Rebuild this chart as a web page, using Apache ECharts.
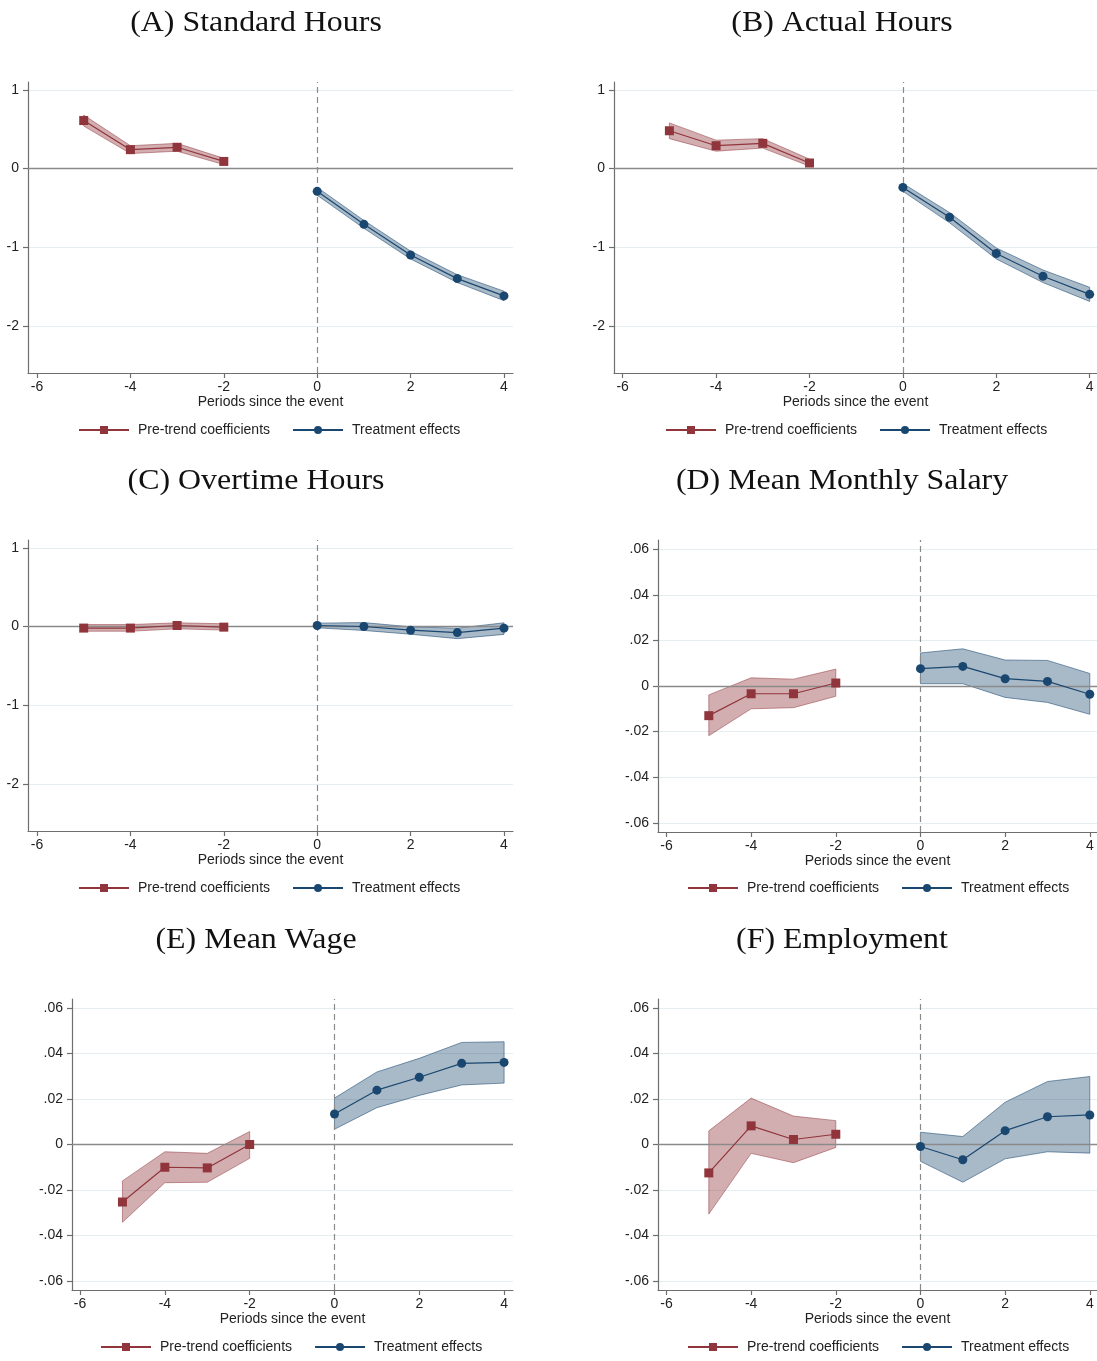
<!DOCTYPE html>
<html>
<head>
<meta charset="utf-8">
<script src="https://cdn.jsdelivr.net/npm/echarts@6/dist/echarts.min.js"></script>
<style>
  html, body { margin: 0; padding: 0; background: #ffffff; }
  #chart { width: 1097px; height: 1361px; }
</style>
</head>
<body>
<div id="chart"></div>
<script>
// ---- event-study estimates: periods, point estimates and 95% bands ----
const prePeriods = [-5, -4, -3, -2];
const postPeriods = [0, 1, 2, 3, 4];
const xTickValues = [-6, -4, -2, 0, 2, 4];
const hoursTickValues = [-2, -1, 0, 1];
const shareTickValues = [-0.06, -0.04, -0.02, 0, 0.02, 0.04, 0.06];

const panelTitles = ['(A) Standard Hours', '(B) Actual Hours', '(C) Overtime Hours',
                     '(D) Mean Monthly Salary', '(E) Mean Wage', '(F) Employment'];
const seriesNames = ['Pre-trend coefficients', 'Treatment effects'];
const xAxisTitle = 'Periods since the event';

// (A) Standard hours
const standardPre   = [0.61, 0.24, 0.27, 0.09];
const standardPreLo = [0.54, 0.19, 0.22, 0.05];
const standardPreHi = [0.68, 0.29, 0.32, 0.13];
const standardPost   = [-0.29, -0.71, -1.10, -1.40, -1.62];
const standardPostLo = [-0.34, -0.76, -1.15, -1.45, -1.68];
const standardPostHi = [-0.24, -0.66, -1.05, -1.35, -1.56];

// (B) Actual hours
const actualPre   = [0.48, 0.29, 0.32, 0.07];
const actualPreLo = [0.38, 0.22, 0.26, 0.03];
const actualPreHi = [0.58, 0.36, 0.38, 0.12];
const actualPost   = [-0.24, -0.62, -1.08, -1.37, -1.60];
const actualPostLo = [-0.29, -0.69, -1.15, -1.45, -1.69];
const actualPostHi = [-0.19, -0.56, -1.01, -1.29, -1.51];

// (C) Overtime hours
const overtimePre   = [-0.02, -0.02, 0.013, -0.008];
const overtimePreLo = [-0.06, -0.06, -0.03, -0.045];
const overtimePreHi = [0.025, 0.025, 0.047, 0.035];
const overtimePost   = [0.013, 0.0, -0.047, -0.077, -0.021];
const overtimePostLo = [-0.017, -0.05, -0.098, -0.154, -0.10];
const overtimePostHi = [0.043, 0.05, -0.004, -0.021, 0.047];

// (D) Mean monthly salary
const salaryPre   = [-0.013, -0.0034, -0.0034, 0.0013];
const salaryPreLo = [-0.0218, -0.0100, -0.0095, -0.0045];
const salaryPreHi = [-0.0039, 0.0036, 0.0030, 0.0074];
const salaryPost   = [0.0076, 0.0086, 0.0032, 0.0020, -0.0036];
const salaryPostLo = [0.0010, 0.0010, -0.0050, -0.0072, -0.0124];
const salaryPostHi = [0.0145, 0.0163, 0.0114, 0.0112, 0.0055];

// (E) Mean wage
const wagePre   = [-0.0253, -0.0100, -0.0103, 0.0000];
const wagePreLo = [-0.0342, -0.0168, -0.0166, -0.0061];
const wagePreHi = [-0.0160, -0.0032, -0.0039, 0.0057];
const wagePost   = [0.0134, 0.0239, 0.0296, 0.0357, 0.0361];
const wagePostLo = [0.0067, 0.0162, 0.0216, 0.0262, 0.0270];
const wagePostHi = [0.0204, 0.0319, 0.0379, 0.0449, 0.0452];

// (F) Employment
const employPre   = [-0.0125, 0.0082, 0.0022, 0.0045];
const employPreLo = [-0.0306, -0.0039, -0.0080, -0.0013];
const employPreHi = [0.0060, 0.0204, 0.0125, 0.0105];
const employPost   = [-0.0009, -0.0067, 0.0061, 0.0122, 0.0130];
const employPostLo = [-0.0074, -0.0166, -0.0063, -0.0032, -0.0038];
const employPostHi = [0.0054, 0.0035, 0.0186, 0.0277, 0.0299];

const panelData = [
  [standardPre, standardPreLo, standardPreHi, standardPost, standardPostLo, standardPostHi],
  [actualPre, actualPreLo, actualPreHi, actualPost, actualPostLo, actualPostHi],
  [overtimePre, overtimePreLo, overtimePreHi, overtimePost, overtimePostLo, overtimePostHi],
  [salaryPre, salaryPreLo, salaryPreHi, salaryPost, salaryPostLo, salaryPostHi],
  [wagePre, wagePreLo, wagePreHi, wagePost, wagePostLo, wagePostHi],
  [employPre, employPreLo, employPreHi, employPost, employPostLo, employPostHi]
];

// ---- layout of the six panels (pixels) ----
const layouts = [
  { left: 28,  top: 82,  width: 485, height: 291, xMin: -6.193, xMax: 4.193, yMin: -2.6,  yMax: 1.1,   hours: true,  legendLeft: 78,  legendTop: 423,  titleX: 256, titleY: 23 },
  { left: 614, top: 82,  width: 483, height: 291, xMin: -6.186, xMax: 4.157, yMin: -2.6,  yMax: 1.1,   hours: true,  legendLeft: 665, legendTop: 423,  titleX: 842, titleY: 23 },
  { left: 28,  top: 540, width: 485, height: 291, xMin: -6.193, xMax: 4.193, yMin: -2.6,  yMax: 1.1,   hours: true,  legendLeft: 78,  legendTop: 881,  titleX: 256, titleY: 481 },
  { left: 658, top: 540, width: 439, height: 292, xMin: -6.2,   xMax: 4.17,  yMin: -0.064, yMax: 0.064, hours: false, legendLeft: 687, legendTop: 881,  titleX: 842, titleY: 481 },
  { left: 72,  top: 999, width: 441, height: 291, xMin: -6.19,  xMax: 4.21,  yMin: -0.064, yMax: 0.064, hours: false, legendLeft: 100, legendTop: 1340, titleX: 256, titleY: 940 },
  { left: 658, top: 999, width: 439, height: 291, xMin: -6.2,   xMax: 4.17,  yMin: -0.064, yMax: 0.064, hours: false, legendLeft: 687, legendTop: 1340, titleX: 842, titleY: 940 }
];

const RED = '#90353B';
const NAVY = '#1A476F';
const RED_FILL = 'rgba(144,53,59,0.40)';
const NAVY_FILL = 'rgba(26,71,111,0.38)';
const RED_EDGE = 'rgba(144,53,59,0.50)';
const NAVY_EDGE = 'rgba(26,71,111,0.55)';
const AXIS_COLOR = '#6e6e6e';
const TEXT_COLOR = '#222222';
const SANS = '"Liberation Sans", Arial, sans-serif';
const FONT_SIZE = 14;

function shareLabel(v) {
  if (Math.abs(v) < 1e-9) return '0';
  const s = Math.abs(v).toFixed(2).replace(/^0/, '');
  return (v < 0 ? '-' : '') + s;
}

// Confidence band drawn as one polygon through the axis scales
function bandSeries(idx, xs, lo, hi, fill, edge) {
  return {
    type: 'custom',
    xAxisIndex: idx,
    yAxisIndex: idx,
    silent: true,
    z: 2,
    data: xs.map((x, i) => [x, lo[i], hi[i]]),
    encode: { x: 0, y: [1, 2] },
    renderItem: function (params, api) {
      if (params.dataIndex !== 0) return null;
      const upper = xs.map((x, i) => api.coord([x, hi[i]]));
      const lower = xs.map((x, i) => api.coord([x, lo[i]])).reverse();
      return {
        type: 'polygon',
        shape: { points: upper.concat(lower) },
        style: { fill: fill, stroke: edge, lineWidth: 1 }
      };
    }
  };
}

const option = {
  animation: false,
  backgroundColor: '#ffffff',
  grid: [], xAxis: [], yAxis: [], series: [], legend: [], graphic: []
};

layouts.forEach((L, i) => {
  const d = panelData[i];
  const yTicks = L.hours ? hoursTickValues : shareTickValues;

  option.grid.push({ left: L.left, top: L.top, width: L.width, height: L.height, containLabel: false });

  option.xAxis.push({
    type: 'value', gridIndex: i, min: L.xMin, max: L.xMax,
    axisLine: { show: true, onZero: false, lineStyle: { color: AXIS_COLOR, width: 1.2 } },
    axisTick: { show: true, length: 5, customValues: xTickValues, lineStyle: { color: AXIS_COLOR, width: 1.2 } },
    axisLabel: { customValues: xTickValues, fontSize: FONT_SIZE, fontFamily: SANS, color: TEXT_COLOR, margin: 7 },
    splitLine: { show: false },
    name: xAxisTitle, nameLocation: 'middle', nameGap: 22,
    nameTextStyle: { fontSize: FONT_SIZE, fontFamily: SANS, color: TEXT_COLOR }
  });

  option.yAxis.push({
    type: 'value', gridIndex: i, min: L.yMin, max: L.yMax,
    axisLine: { show: true, onZero: false, lineStyle: { color: AXIS_COLOR, width: 1.2 } },
    axisTick: { show: true, length: 5, customValues: yTicks, lineStyle: { color: AXIS_COLOR, width: 1.2 } },
    axisLabel: {
      customValues: yTicks, fontSize: FONT_SIZE, fontFamily: SANS, color: TEXT_COLOR, margin: 9,
      formatter: L.hours ? (v => String(v)) : shareLabel
    },
    splitLine: { show: false }
  });

  // faint horizontal gridlines, kept beneath the bands
  option.series.push({
    type: 'line', xAxisIndex: i, yAxisIndex: i, data: [], silent: true, z: 0,
    markLine: {
      z: 0, silent: true, symbol: 'none', label: { show: false }, animation: false,
      lineStyle: { color: '#e4edf0', width: 1, type: 'solid' },
      data: yTicks.filter(v => Math.abs(v) > 1e-9).map(v => ({ yAxis: v }))
    }
  });

  option.series.push(bandSeries(i, prePeriods, d[1], d[2], RED_FILL, RED_EDGE));
  option.series.push(bandSeries(i, postPeriods, d[4], d[5], NAVY_FILL, NAVY_EDGE));

  // zero line and event-date marker
  option.series.push({
    type: 'line', xAxisIndex: i, yAxisIndex: i, data: [], silent: true, z: 3,
    markLine: {
      z: 3, silent: true, symbol: 'none', label: { show: false }, animation: false,
      data: [
        { yAxis: 0, lineStyle: { color: '#8a8a8a', width: 1.3, type: 'solid' } },
        { xAxis: 0, lineStyle: { color: '#8a8a8a', width: 1.2, type: [6, 4] } }
      ]
    }
  });

  option.series.push({
    name: seriesNames[0], type: 'line', xAxisIndex: i, yAxisIndex: i, z: 5,
    data: prePeriods.map((x, k) => [x, d[0][k]]),
    symbol: 'rect', symbolSize: 9,
    itemStyle: { color: RED },
    lineStyle: { color: RED, width: 1.2 }
  });
  option.series.push({
    name: seriesNames[1], type: 'line', xAxisIndex: i, yAxisIndex: i, z: 5,
    data: postPeriods.map((x, k) => [x, d[3][k]]),
    symbol: 'circle', symbolSize: 9,
    itemStyle: { color: NAVY },
    lineStyle: { color: NAVY, width: 1.2 }
  });

  option.legend.push({
    left: L.legendLeft, top: L.legendTop, padding: 0, orient: 'horizontal',
    itemWidth: 50, itemHeight: 10, itemGap: 22, selectedMode: false,
    textStyle: { fontSize: FONT_SIZE, fontFamily: SANS, color: TEXT_COLOR, padding: [0, 0, 0, 4] },
    data: seriesNames
  });

  option.graphic.push({
    type: 'text', x: L.titleX, y: L.titleY, scaleX: 1.1, silent: true,
    style: {
      text: panelTitles[i],
      fontSize: 29, fontFamily: '"Liberation Serif", "DejaVu Serif", serif',
      fill: '#111111', align: 'center', verticalAlign: 'middle',
      textAlign: 'center', textVerticalAlign: 'middle'
    }
  });
});

const chart = echarts.init(document.getElementById('chart'), null, { renderer: 'canvas' });
chart.setOption(option);
</script>
</body>
</html>
